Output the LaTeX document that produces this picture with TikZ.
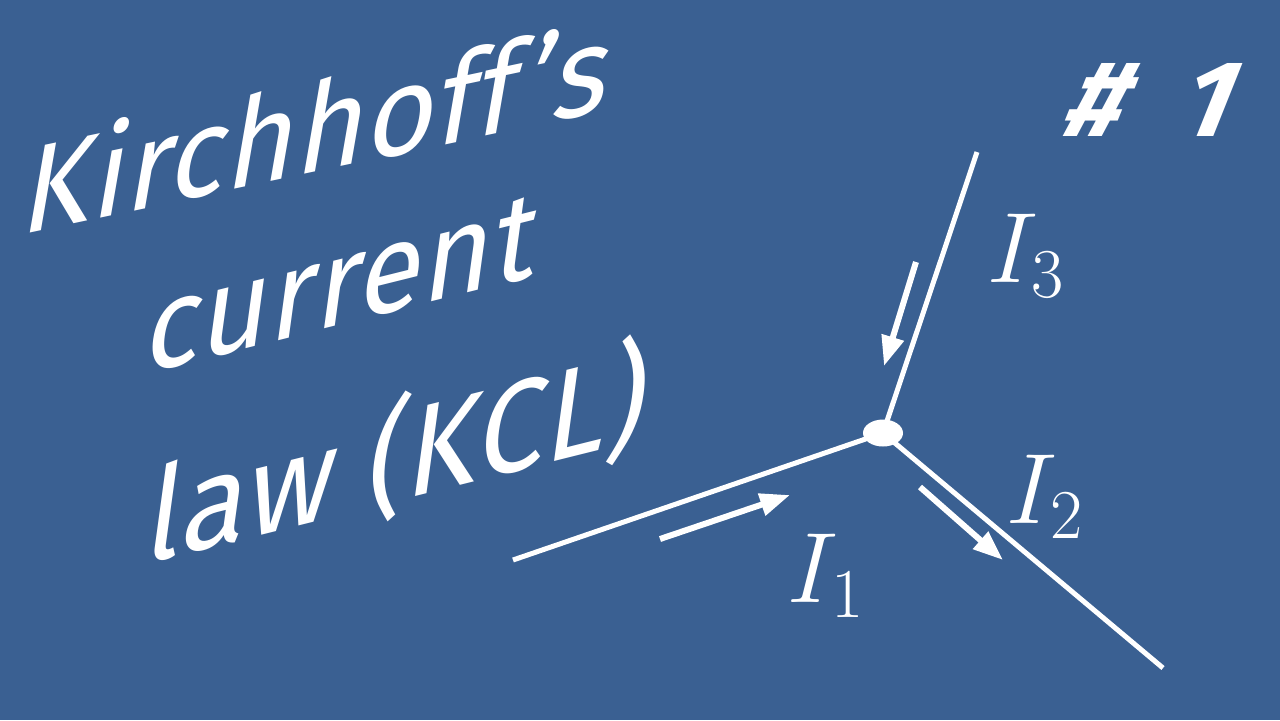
\documentclass[tikz,border=0pt]{standalone}
\usepackage{fix-cm}
\usepackage{fontspec}
\usepackage[HTML]{xcolor}
\usetikzlibrary{arrows.meta, shapes.geometric}
\definecolor{slide}{HTML}{3A6092}
\newfontfamily\handfont{Fira Sans}[LetterSpace=1, FakeSlant=0.4]

\begin{document}
\begin{tikzpicture}[x=0.5pt, y=-0.5pt,
  wire/.style={white, line width=2.5pt},
  flow/.style={white, line width=3pt, -{Triangle[length=15pt, width=11pt]}},
  hand/.style={white, font=\handfont\fontsize{60}{62}\selectfont, inner sep=0pt},
  cur/.style={white, font=\fontsize{50}{55}\selectfont, inner sep=0pt}]

% --- Background ---
\fill[slide] (0,0) rectangle (1280,720);
\useasboundingbox (0,0) rectangle (1280,720);

% --- Title ---
\node[hand, rotate=12] (kirch) at (302,128) {Kirchhoff’s};
\node[hand, rotate=14] (curr) at (328,288) {current};
\node[hand, rotate=14, font=\handfont\fontsize{62}{64}\selectfont] (law) at (382,460) {law (KCL)};
\node[hand, font=\handfont\bfseries\fontsize{54}{56}\selectfont] (num) at (1140,100) {\#\hspace{0.5em}1};

% --- Junction with three wires ---
\coordinate (j) at (883,433);
\coordinate (e1) at (513,560);
\coordinate (e2) at (1163,668);
\coordinate (e3) at (977,152);
\draw[wire] (e1) -- (j);
\draw[wire] (j) -- (e2);
\draw[wire] (e3) -- (j);
\node[ellipse, fill=white, minimum width=20pt, minimum height=13.5pt, inner sep=0pt] (J) at (j) {};

% --- Current arrows ---
\coordinate (a1s) at (660,539);
\coordinate (a1e) at (790,495);
\coordinate (a2s) at (920,487);
\coordinate (a2e) at (1003,560);
\coordinate (a3s) at (916,262);
\coordinate (a3e) at (884,366);
\draw[flow] (a1s) -- (a1e);
\draw[flow] (a2s) -- (a2e);
\draw[flow] (a3s) -- (a3e);

% --- Labels ---
\node[cur] (i1) at (826,576) {$I_1$};
\node[cur] (i2) at (1045,497) {$I_2$};
\node[cur] (i3) at (1026,256) {$I_3$};

\end{tikzpicture}
\end{document}
